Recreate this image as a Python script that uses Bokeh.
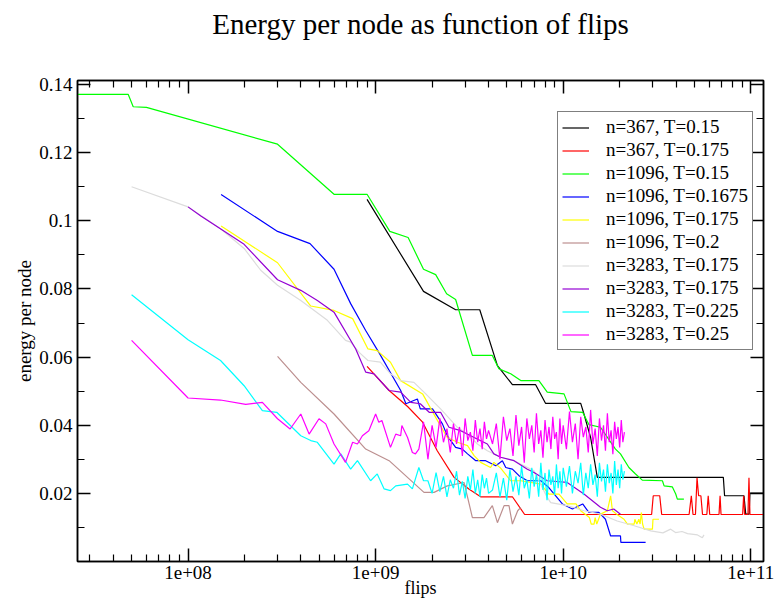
from bokeh.plotting import figure
from bokeh.models import (Range1d, LogAxis, LinearAxis, FixedTicker,
                          CustomJSTickFormatter, Legend, LegendItem)
from bokeh.embed import file_html
from bokeh.resources import INLINE

FONT = "Liberation Serif"

# ---------------- data (flips, energy per node) ----------------
black_x = [9.0e8, 1.8e9, 2.67e9, 3.59e9, 4.46e9, 5.36e9, 7.13e9, 8.06e9, 1.24e10, 1.29e10,
           1.4e10, 1.52e10, 7.14e10, 7.25e10, 9.2e10, 9.4e10, 9.8e10, 9.9e10, 1.3e11]
black_y = [0.1063, 0.0793, 0.0739, 0.0739, 0.0575, 0.0519, 0.0519, 0.0464, 0.0464, 0.0433,
           0.0364, 0.0247, 0.0247, 0.0193, 0.0193, 0.0139, 0.0139, 0.0201, 0.0201]

red_x = [9.0e8, 1.18e9, 1.48e9, 1.78e9, 2.13e9, 2.62e9, 3.14e9, 3.63e9, 5.36e9, 6.23e9,
         2.96e10, 3.02e10, 3.27e10, 3.35e10,
         4.69e10, 4.82e10, 4.92e10, 5.07e10, 5.17e10, 5.27e10, 5.42e10, 5.53e10,
         5.83e10, 5.93e10, 6.04e10, 6.77e10, 6.86e10, 6.94e10,
         9.05e10, 9.16e10, 9.28e10, 9.66e10, 9.78e10, 9.9e10, 1.3e11]
red_y = [0.0573, 0.0502, 0.0455, 0.0409, 0.0325, 0.0247, 0.0213, 0.0190, 0.0190, 0.0138,
         0.0138, 0.0193, 0.0193, 0.0138,
         0.0138, 0.0193, 0.0138, 0.0138, 0.0246, 0.0193, 0.0193, 0.0138,
         0.0138, 0.0193, 0.0138, 0.0138, 0.0193, 0.0138,
         0.0138, 0.0193, 0.0138, 0.0138, 0.0246, 0.0138, 0.0138]

green_x = [2.5e7, 4.8e7, 5.1e7, 6.0e7, 3.0e8, 6.0e8, 9.0e8, 1.19e9, 1.49e9, 1.8e9,
           2.09e9, 2.39e9, 2.67e9, 3.28e9, 4.19e9, 4.54e9, 5.25e9, 5.94e9, 7.42e9, 8.22e9,
           1.01e10, 1.1e10, 1.27e10, 1.37e10, 1.58e10, 1.9e10, 2.02e10, 2.24e10, 2.43e10, 2.64e10,
           3.38e10, 3.45e10, 3.82e10, 3.98e10, 4.06e10, 4.4e10]
green_y = [0.1371, 0.1371, 0.1335, 0.1333, 0.1225, 0.1078, 0.1078, 0.0969, 0.0951, 0.0858,
           0.0842, 0.0786, 0.0769, 0.0605, 0.0605, 0.0566, 0.0551, 0.0531, 0.0531, 0.0497,
           0.0492, 0.0440, 0.0438, 0.0402, 0.0394, 0.0330, 0.0316, 0.0276, 0.0257, 0.0239,
           0.0237, 0.0222, 0.0219, 0.0198, 0.0183, 0.0183]

blue_x = [1.5e8, 3.0e8, 4.47e8, 6.0e8, 7.36e8, 8.85e8, 1.04e9, 1.36e9, 1.45e9, 1.67e9,
          1.73e9, 2.01e9, 2.27e9, 2.41e9, 2.67e9, 2.9e9, 3.09e9, 3.42e9, 3.86e9, 4.37e9,
          4.74e9, 4.94e9, 5.36e9, 5.81e9, 6.44e9, 7.6e9, 8.38e9, 9.9e9, 1.12e10, 1.27e10,
          1.37e10, 1.55e10, 1.68e10, 1.79e10, 2.02e10, 2.03e10, 2.75e10]
blue_y = [0.1077, 0.0969, 0.0933, 0.0858, 0.0757, 0.0678, 0.0614, 0.0502, 0.0463, 0.0477,
          0.0448, 0.0448, 0.0404, 0.0369, 0.0335, 0.0330, 0.0316, 0.0296, 0.0296, 0.0281,
          0.0296, 0.0276, 0.0271, 0.0252, 0.0237, 0.0237, 0.0217, 0.0169, 0.0154, 0.0169,
          0.0144, 0.0144, 0.0124, 0.0075, 0.0075, 0.0056, 0.0056]

yellow_x = [1.5e8, 3.0e8, 4.51e8, 6.0e8, 7.54e8, 9.1e8, 1.02e9, 1.2e9, 1.36e9, 1.78e9,
            2.09e9, 2.41e9, 2.73e9, 3.09e9, 3.35e9, 3.63e9, 4.1e9, 4.27e9, 4.64e9, 5.25e9,
            5.94e9, 7.6e9, 8.38e9, 9.5e9, 1.05e10, 1.17e10, 1.24e10, 1.38e10, 1.41e10, 1.46e10,
            1.48e10, 1.51e10, 1.58e10, 1.72e10, 1.79e10, 1.83e10, 1.98e10, 2.11e10, 2.2e10, 2.39e10,
            2.41e10, 2.47e10, 2.53e10, 2.57e10, 2.61e10, 2.65e10, 2.7e10, 2.99e10, 3.01e10, 3.24e10]
yellow_y = [0.0985, 0.0877, 0.0750, 0.0737, 0.0713, 0.0624, 0.0619, 0.0585, 0.0531, 0.0492,
            0.0423, 0.0364, 0.0350, 0.0340, 0.0311, 0.0291, 0.0276, 0.0291, 0.0274, 0.0237,
            0.0237, 0.0227, 0.0198, 0.0198, 0.0169, 0.0169, 0.0149, 0.0129, 0.0110, 0.0110,
            0.0129, 0.0110, 0.0139, 0.0149, 0.0193, 0.0149, 0.0134, 0.0124, 0.0110, 0.0110,
            0.0124, 0.0110, 0.0124, 0.0110, 0.0144, 0.0110, 0.0095, 0.0095, 0.0124, 0.0124]

brown_x = [3.0e8, 3.99e8, 6.0e8, 8.85e8, 1.18e9, 1.81e9, 2.05e9, 2.41e9, 2.96e9, 3.28e9,
           3.78e9, 4.19e9, 4.46e9, 4.84e9, 5.14e9, 5.36e9, 5.72e9, 5.94e9]
brown_y = [0.0602, 0.0526, 0.0433, 0.0330, 0.0296, 0.0203, 0.0203, 0.0222, 0.0232, 0.0129,
           0.0129, 0.0164, 0.0114, 0.0164, 0.0164, 0.0110, 0.0149, 0.0159]

gray_x = [5.0e7, 1.0e8, 1.49e8, 1.99e8, 2.44e8, 3.0e8, 3.99e8, 5.53e8, 6.91e8, 7.36e8,
          8.17e8, 9.1e8, 1.06e9, 1.2e9, 1.36e9, 1.6e9, 1.85e9, 2.05e9, 2.22e9, 2.73e9,
          3.09e9, 3.49e9, 3.94e9, 4.64e9, 5.47e9, 6.99e9, 8.22e9, 8.58e9, 1.05e10, 1.29e10,
          1.58e10, 1.94e10, 2.39e10, 2.93e10, 3.4e10, 3.74e10, 3.97e10, 4.3e10, 4.6e10, 5.2e10,
          5.52e10, 5.63e10]
gray_y = [0.1100, 0.1041, 0.0977, 0.0919, 0.0855, 0.0811, 0.0766, 0.0708, 0.0649, 0.0644,
          0.0614, 0.0590, 0.0585, 0.0551, 0.0531, 0.0526, 0.0492, 0.0467, 0.0448, 0.0394,
          0.0374, 0.0345, 0.0325, 0.0306, 0.0296, 0.0266, 0.0188, 0.0173, 0.0164, 0.0149,
          0.0139, 0.0119, 0.0105, 0.0090, 0.0084, 0.0095, 0.0085, 0.0088, 0.0082, 0.0078,
          0.0070, 0.0078]

violet_x = [1.0e8, 1.17e8, 1.99e8, 3.0e8, 3.99e8, 4.89e8, 6.0e8, 7.83e8, 8.85e8, 9.8e8,
            1.18e9, 1.36e9, 1.54e9, 1.73e9, 1.93e9, 2.22e9, 2.46e9, 2.84e9, 3.35e9, 3.94e9,
            4.27e9, 4.64e9, 5.47e9, 6.44e9, 6.99e9, 8.22e9, 1.05e10, 1.29e10, 1.58e10, 1.72e10,
            1.86e10, 2.02e10]
violet_y = [0.1041, 0.1014, 0.0931, 0.0827, 0.0796, 0.0766, 0.0732, 0.0624, 0.0556, 0.0551,
            0.0502, 0.0497, 0.0467, 0.0463, 0.0438, 0.0438, 0.0394, 0.0384, 0.0364, 0.0345,
            0.0316, 0.0306, 0.0296, 0.0271, 0.0261, 0.0237, 0.0232, 0.0198, 0.0159, 0.0149,
            0.0154, 0.0139]

# densely sampled flips shared by the two noisy runs (n=3283, T=0.225 / 0.25)
flips_dense = [1.7e9, 1.8e9, 1.9e9, 2.0e9, 2.1e9, 2.2e9, 2.3e9, 2.4e9, 2.5e9, 2.6e9,
               2.7e9, 2.8e9, 2.9e9, 3.0e9, 3.1e9, 3.2e9, 3.3e9, 3.4e9, 3.5e9, 3.6e9,
               3.7e9, 3.8e9, 3.9e9, 4.0e9,
               4.2e9, 4.4e9, 4.6e9, 4.8e9, 5.0e9, 5.2e9, 5.4e9, 5.6e9, 5.8e9, 6.0e9,
               6.2e9, 6.4e9, 6.6e9, 6.8e9, 7.0e9, 7.2e9, 7.4e9, 7.6e9, 7.8e9, 8.0e9,
               8.2e9, 8.4e9, 8.6e9, 8.8e9, 9.0e9, 9.2e9, 9.4e9, 9.6e9, 9.8e9, 1.0e10,
               1.04e10, 1.08e10, 1.12e10, 1.16e10, 1.2e10, 1.24e10, 1.28e10, 1.32e10, 1.36e10, 1.4e10,
               1.44e10, 1.48e10, 1.52e10, 1.56e10, 1.6e10, 1.64e10, 1.68e10, 1.72e10, 1.76e10, 1.8e10,
               1.84e10, 1.88e10, 1.92e10, 1.96e10, 2.0e10, 2.04e10, 2.08e10, 2.12e10]

cyan_x_head = [5.0e7, 1.0e8, 1.49e8, 1.99e8, 2.49e8, 2.97e8, 3.99e8, 4.51e8, 4.89e8, 6.0e8,
               6.52e8, 7.36e8, 8.0e8, 9.4e8, 1.02e9, 1.11e9, 1.2e9, 1.28e9, 1.48e9, 1.57e9]
cyan_y_head = [0.0783, 0.0651, 0.0590, 0.0516, 0.0443, 0.0438, 0.0369, 0.0355, 0.0350, 0.0286,
               0.0316, 0.0271, 0.0296, 0.0237, 0.0257, 0.0213, 0.0208, 0.0222, 0.0227, 0.0213]
cyan_y_dense = [0.0276, 0.0237, 0.0237, 0.0200, 0.0261, 0.0205, 0.0250, 0.0190, 0.0240, 0.0215,
                0.0265, 0.0195, 0.0235, 0.0185, 0.0250, 0.0210, 0.0270, 0.0200, 0.0240, 0.0190,
                0.0255, 0.0215, 0.0245, 0.0200,
                0.0210, 0.0260, 0.0190, 0.0245, 0.0180, 0.0270, 0.0205, 0.0250, 0.0195, 0.0280,
                0.0215, 0.0240, 0.0185, 0.0275, 0.0220, 0.0255, 0.0190, 0.0290, 0.0210, 0.0260,
                0.0180, 0.0270, 0.0225, 0.0250, 0.0195, 0.0285, 0.0215, 0.0265, 0.0200, 0.0275,
                0.0220, 0.0280, 0.0200, 0.0265, 0.0230, 0.0290, 0.0195, 0.0260, 0.0215, 0.0285,
                0.0225, 0.0255, 0.0190, 0.0290, 0.0235, 0.0270, 0.0205, 0.0285, 0.0230, 0.0260,
                0.0200, 0.0295, 0.0225, 0.0270, 0.0215, 0.0285, 0.0240, 0.0265]

magenta_x_head = [5.0e7, 1.0e8, 1.49e8, 2.03e8, 2.49e8, 3.0e8, 3.5e8, 3.99e8, 4.42e8, 4.99e8,
                  5.42e8, 6.0e8, 6.91e8, 7.54e8, 8.0e8, 8.5e8, 9.2e8, 1.0e9, 1.04e9, 1.08e9,
                  1.2e9, 1.28e9, 1.36e9, 1.38e9, 1.48e9, 1.57e9, 1.63e9]
magenta_y_head = [0.0649, 0.0480, 0.0474, 0.0461, 0.0467, 0.0419, 0.0389, 0.0433, 0.0374, 0.0419,
                  0.0404, 0.0345, 0.0291, 0.0350, 0.0345, 0.0369, 0.0384, 0.0433, 0.0409, 0.0414,
                  0.0335, 0.0374, 0.0369, 0.0399, 0.0364, 0.0320, 0.0316]
magenta_y_dense = [0.0330, 0.0410, 0.0300, 0.0400, 0.0335, 0.0420, 0.0350, 0.0390, 0.0320, 0.0405,
                   0.0345, 0.0395, 0.0310, 0.0420, 0.0355, 0.0380, 0.0325, 0.0415, 0.0350, 0.0390,
                   0.0330, 0.0410, 0.0360, 0.0385,
                   0.0345, 0.0405, 0.0300, 0.0425, 0.0355, 0.0390, 0.0310, 0.0430, 0.0340, 0.0395,
                   0.0290, 0.0420, 0.0360, 0.0400, 0.0320, 0.0435, 0.0345, 0.0385, 0.0305, 0.0415,
                   0.0350, 0.0395, 0.0330, 0.0425, 0.0360, 0.0380, 0.0300, 0.0420, 0.0345, 0.0400,
                   0.0330, 0.0440, 0.0350, 0.0405, 0.0300, 0.0425, 0.0365, 0.0395, 0.0320, 0.0445,
                   0.0345, 0.0390, 0.0310, 0.0420, 0.0355, 0.0400, 0.0325, 0.0435, 0.0350, 0.0385,
                   0.0315, 0.0410, 0.0360, 0.0395, 0.0335, 0.0415, 0.0350, 0.0380]

series = [
    ("n=367, T=0.15", "#000000", black_x, black_y),
    ("n=367, T=0.175", "#ff0000", red_x, red_y),
    ("n=1096, T=0.15", "#00ff00", green_x, green_y),
    ("n=1096, T=0.1675", "#0000ff", blue_x, blue_y),
    ("n=1096, T=0.175", "#ffff00", yellow_x, yellow_y),
    ("n=1096, T=0.2", "#bc8f8f", brown_x, brown_y),
    ("n=3283, T=0.175", "#dcdcdc", gray_x, gray_y),
    ("n=3283, T=0.175", "#9400d3", violet_x, violet_y),
    ("n=3283, T=0.225", "#00ffff", cyan_x_head + flips_dense, cyan_y_head + cyan_y_dense),
    ("n=3283, T=0.25", "#ff00ff", magenta_x_head + flips_dense, magenta_y_head + magenta_y_dense),
]

x_major = [1e8, 1e9, 1e10, 1e11]
x_minor = [3e7, 4e7, 5e7, 6e7, 7e7, 8e7, 9e7,
           2e8, 3e8, 4e8, 5e8, 6e8, 7e8, 8e8, 9e8,
           2e9, 3e9, 4e9, 5e9, 6e9, 7e9, 8e9, 9e9,
           2e10, 3e10, 4e10, 5e10, 6e10, 7e10, 8e10, 9e10]
y_major = [0.02, 0.04, 0.06, 0.08, 0.10, 0.12, 0.14]
y_minor = [0.01, 0.03, 0.05, 0.07, 0.09, 0.11, 0.13]

title_text = "Energy per node as function of flips"
x_label = "flips"
y_label = "energy per node"

# ---------------- figure ----------------
p = figure(width=774, height=603, x_axis_type="log", title=None,
           x_range=Range1d(2.574e7, 1.169e11), y_range=Range1d(0, 0.1412),
           output_backend="svg", toolbar_location=None,
           min_border_left=77, min_border_right=11, min_border_top=80, min_border_bottom=42)

p.grid.visible = False
p.outline_line_color = "black"
p.outline_line_width = 1.5
p.background_fill_color = "white"
p.border_fill_color = "white"

xfmt = CustomJSTickFormatter(code="""
const e = Math.round(Math.log10(tick));
return '1e+' + (e < 10 ? '0' + e : String(e));
""")
yfmt = CustomJSTickFormatter(code="return String(Number(tick.toFixed(3)));")
blankfmt = CustomJSTickFormatter(code="return '';")


def style_axis(ax, show_labels):
    ax.axis_line_color = "black"
    ax.axis_line_width = 1.5
    ax.major_tick_in = 13
    ax.major_tick_out = 0
    ax.minor_tick_in = 7
    ax.minor_tick_out = 0
    ax.major_tick_line_color = "black"
    ax.major_tick_line_width = 1.5
    ax.minor_tick_line_color = "black"
    ax.minor_tick_line_width = 1.2
    ax.major_label_text_font = FONT
    ax.major_label_text_color = "black"
    ax.axis_label_text_font = FONT
    ax.axis_label_text_font_style = "normal"
    ax.axis_label_text_color = "black"
    if show_labels:
        ax.major_label_text_font_size = "19px"
    else:
        ax.major_label_text_font_size = "1px"
        ax.major_label_standoff = 0


xa = p.xaxis[0]
xa.ticker = FixedTicker(ticks=x_major, minor_ticks=x_minor)
xa.formatter = xfmt
style_axis(xa, True)
xa.major_label_standoff = 4
xa.axis_label = x_label
xa.axis_label_text_font_size = "18px"
xa.axis_label_standoff = -4

ya = p.yaxis[0]
ya.ticker = FixedTicker(ticks=y_major, minor_ticks=y_minor)
ya.formatter = yfmt
style_axis(ya, True)
ya.major_label_standoff = 5
ya.axis_label = y_label
ya.axis_label_text_font_size = "19px"
ya.axis_label_standoff = 1

# mirrored ticks on top (carries the chart title) and on the right
top = LogAxis(ticker=FixedTicker(ticks=x_major, minor_ticks=x_minor), formatter=blankfmt)
style_axis(top, False)
top.axis_label = title_text
top.axis_label_text_font_size = "29px"
top.axis_label_standoff = 41
p.add_layout(top, "above")

right = LinearAxis(ticker=FixedTicker(ticks=y_major, minor_ticks=y_minor), formatter=blankfmt)
style_axis(right, False)
p.add_layout(right, "right")

items = []
for label, color, xs, ys in series:
    r = p.line(xs, ys, line_color=color, line_width=1.2)
    items.append(LegendItem(label=label, renderers=[r]))

legend = Legend(items=items, location=(480, 211),
                label_text_font=FONT, label_text_font_size="19px",
                label_text_color="black",
                border_line_color="black", border_line_width=1.5,
                background_fill_color="white", background_fill_alpha=1.0,
                padding=4, spacing=1, margin=0,
                glyph_width=27, glyph_height=21, label_height=21,
                label_standoff=17)
p.add_layout(legend, "center")

open("out.html", "w").write(file_html(p, INLINE))
